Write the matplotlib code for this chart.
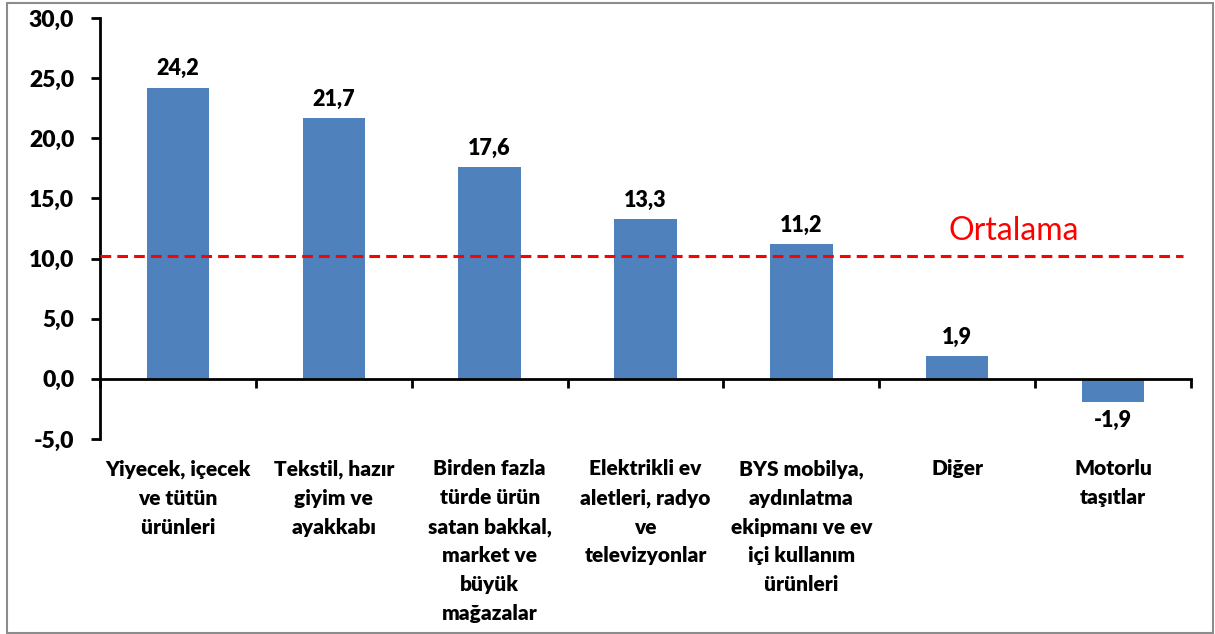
import matplotlib.pyplot as plt
from matplotlib.patches import Rectangle
from matplotlib.transforms import blended_transform_factory

# Veriler
kategoriler = ['Yiyecek, içecek\nve tütün\nürünleri',
               'Tekstil, hazır\ngiyim ve\nayakkabı',
               'Birden fazla\ntürde ürün\nsatan bakkal,\nmarket ve\nbüyük\nmağazalar',
               'Elektrikli ev\naletleri, radyo\nve\ntelevizyonlar',
               'BYS mobilya,\naydınlatma\nekipmanı ve ev\niçi kullanım\nürünleri',
               'Diğer',
               'Motorlu\ntaşıtlar']
degerler = [24.2, 21.7, 17.6, 13.3, 11.2, 1.9, -1.9]
ortalama = 10.2
y_ticks = [-5, 0, 5, 10, 15, 20, 25, 30]

plt.rcParams['font.family'] = ['Lato', 'DejaVu Sans']

fig = plt.figure(figsize=(12.15, 6.34), dpi=100)
ax = fig.add_axes([0.0823, 0.3076, 0.898, 0.664])

x = list(range(len(degerler)))
ax.bar(x, degerler, width=0.4, color='#4F81BD', zorder=2)

for xi, v in zip(x, degerler):
    etiket = f'{v:.1f}'.replace('.', ',')
    if v >= 0:
        ax.text(xi, v + 0.7, etiket, ha='center', va='bottom', fontsize=15.5, fontweight='heavy')
    else:
        ax.text(xi, v - 0.7, etiket, ha='center', va='top', fontsize=15.5, fontweight='heavy')

# Ortalama çizgisi
ax.axhline(ortalama, xmin=0, xmax=0.993, color='#FF0000', linestyle=(0, (3.5, 2)), linewidth=2.2, zorder=3)
ax.text(5.36, 12.3, 'Ortalama', color='#FF0000', fontsize=23, ha='center', va='center')

ax.set_xlim(-0.5, len(degerler) - 0.5)
ax.set_ylim(-5, 30)
ax.set_yticks(y_ticks)
ax.set_yticklabels([f'{t:.1f}'.replace('.', ',') for t in y_ticks], fontsize=16.5, fontweight='heavy')
ax.tick_params(axis='y', length=6.5, width=2, pad=12)

ax.spines['top'].set_visible(False)
ax.spines['right'].set_visible(False)
ax.spines['left'].set_linewidth(2)
ax.spines['bottom'].set_position(('data', 0))
ax.spines['bottom'].set_linewidth(2)
ax.set_xticks([i - 0.5 for i in range(len(degerler) + 1)])
ax.set_xticklabels([])
ax.tick_params(axis='x', length=6.5, width=2, direction='out')

trans = blended_transform_factory(ax.transData, ax.transAxes)
for xi, k in zip(x, kategoriler):
    ax.text(xi, -0.048, k, transform=trans, ha='center', va='top', fontsize=15,
            fontweight='heavy', linespacing=1.62)

fig.patches.append(Rectangle((0.006, 0.002), 0.992, 0.993, transform=fig.transFigure,
                             fill=False, edgecolor='#8C8C8C', linewidth=1.5))

plt.savefig('out.png', dpi=100)
